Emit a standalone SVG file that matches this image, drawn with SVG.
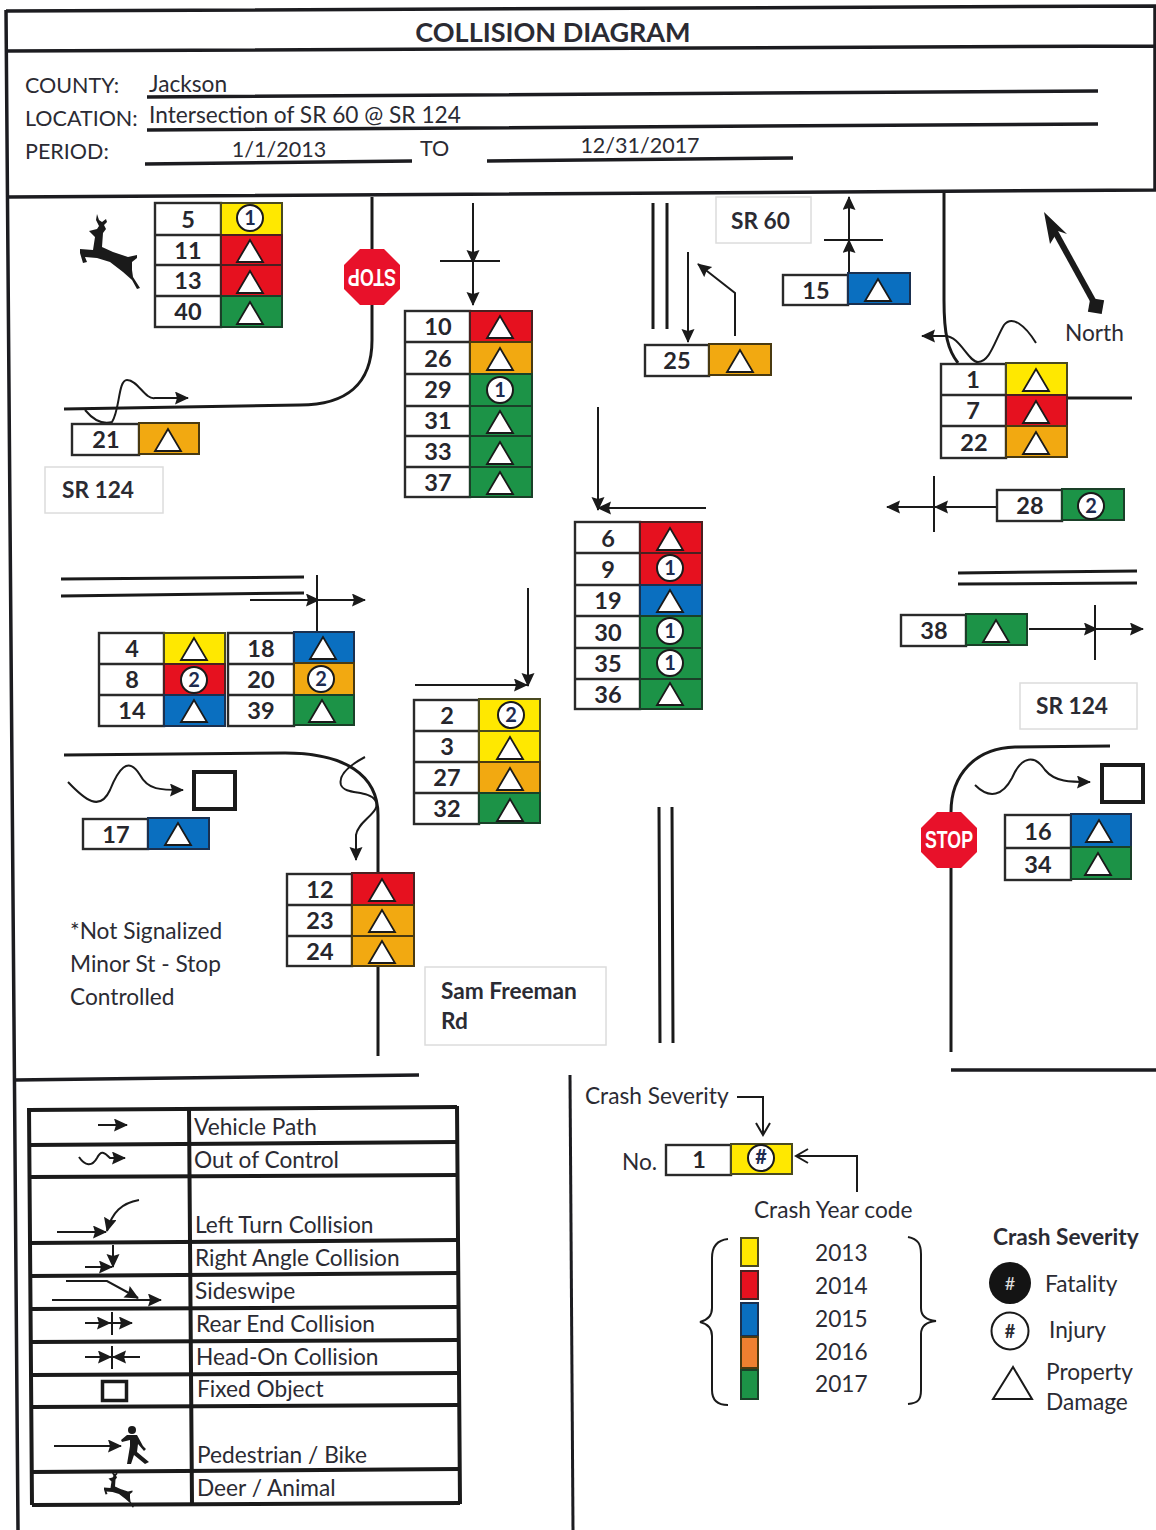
<svg xmlns="http://www.w3.org/2000/svg" width="1156" height="1530" viewBox="0 0 1156 1530">
<style>
text{font-family:"Lato","Open Sans","Liberation Sans",sans-serif;fill:#2b2b33}
.t{font-size:22.700px}
.h{font-size:21.500px}
.l{font-size:22.700px}
.num{font-size:23.500px;font-weight:700;text-anchor:middle;fill:#26262c}
.b{font-weight:700}
.d{font-size:20px;text-anchor:middle;fill:#1d2b4f;font-weight:700}
.n{fill:#fff;stroke:#2a2a2a;stroke-width:2.400}
.Y{fill:#ffe800;stroke:#4a4a20;stroke-width:2}
.R{fill:#e6111f;stroke:#4a2020;stroke-width:2}
.B{fill:#0a6fc0;stroke:#1a3050;stroke-width:2}
.O{fill:#f2a911;stroke:#4a3a10;stroke-width:2}
.A{fill:#ee8030;stroke:#4a3a10;stroke-width:2}
.G{fill:#1c9347;stroke:#1a4028;stroke-width:2}
.tri{fill:#fff;stroke:#1a1a1a;stroke-width:1.800}
.cir{fill:#fff;stroke:#1a1a1a;stroke-width:2}
.ln{fill:none;stroke:#1a1a1a;stroke-width:2}
.rd{fill:none;stroke:#1a1a1a;stroke-width:3}
.fr{fill:none;stroke:#1c1c20;stroke-width:3.500}
.ar{marker-end:url(#h)}
.am{marker-mid:url(#h);marker-end:url(#h)}
.box{fill:#fff;stroke:#dcdcdc;stroke-width:1.500}
.lg{fill:none;stroke:#1a1a1a;stroke-width:4}
.fx{fill:#fff;stroke:#1a1a1a;stroke-width:4}
.stop{fill:#e8112a}
.st{font-size:23px;font-weight:700;text-anchor:middle;fill:#fff;font-family:"Liberation Sans",sans-serif}
</style>
<defs>
<marker id="h" markerUnits="userSpaceOnUse" markerWidth="16" markerHeight="14" refX="13" refY="6.500" orient="auto"><path d="M0,0L14,6.500L0,13L2,6.500Z" fill="#1a1a1a"/></marker>
<marker id="o" markerUnits="userSpaceOnUse" markerWidth="16" markerHeight="20" refX="14" refY="9" orient="auto"><path d="M2,2L14,9L2,16" fill="none" stroke="#1a1a1a" stroke-width="2"/></marker>
<path id="tr" class="tri" d="M0,-11L-13,11H13Z"/>
<path id="deer" fill="#1a1a1a" d="M97,214L99,220L102,222L106,219L107,222L104,225L106,229L103,233L102,247L113,252L128,257L137,255L137,258L132,262L132,270L133,277L140,288L137,289L132,280L123,272L110,262L97,258L85,257L87,262L83,263L80,253L80,249L93,250L95,237L89,231L97,229L99,226L96,220Z"/>
<path id="stop" class="stop" d="M-12,-28H12L28,-12V12L12,28H-12L-28,12V-12Z"/>
</defs>
<rect width="1156" height="1530" fill="#fff"/>

<g id="frame">
<path class="fr" d="M6,11L1156,6M6,10L18,1530M6,51L1156,46M8,197L1156,190M1155,6V190"/>
<path class="fr" d="M15,1080L419,1075M951,1070H1156"/>
<path class="fr" style="stroke-width:3" d="M570,1075L573,1530"/>
<path class="fr" d="M147,97L1098,91M147,130L1098,124M145,164L412,161M487,161L793,158"/>
</g>
<g id="header">
<text x="553" y="42" text-anchor="middle" font-size="27" class="b">COLLISION DIAGRAM</text>
<text class="h" x="25" y="93">COUNTY:</text>
<text class="t" x="149" y="92">Jackson</text>
<text class="h" x="25" y="126">LOCATION:</text>
<text class="t" x="149" y="123">Intersection of SR 60 @ SR 124</text>
<text class="h" x="25" y="159">PERIOD:</text>
<text class="h" x="279" y="157" text-anchor="middle">1/1/2013</text>
<text class="h" x="420" y="156">TO</text>
<text class="h" x="640" y="153" text-anchor="middle">12/31/2017</text>
</g>

<g id="roads">
<path class="rd" d="M372,197V340C372,385 345,405 300,405L64,409"/>
<path class="rd" d="M944,193V300C944,335 948,350 958,363"/>
<path class="rd" d="M1068,398H1132"/>
<path class="rd" d="M653,203V329M667,203V329"/>
<path class="rd" d="M958,573L1137,571M958,584L1137,583"/>
<path class="rd" d="M61,579L304,577M61,596L304,593"/>
<path class="rd" d="M64,755L285,753C345,753 378,775 378,815V1056"/>
<path class="rd" d="M1110,746L1015,747C975,748 951,775 951,812V1052"/>
<path class="rd" d="M659,807L660,1043M672,807L673,1043"/>
</g>

<g id="connectors">
<path class="ln am" d="M473,203V263V305"/><path class="ln" d="M440,261H500"/>
<path class="ln ar" d="M688,252V342"/>
<path class="ln ar" d="M735,336V293L698,264"/>
<path class="ln am" d="M849,272V240V197"/><path class="ln" d="M824,240H883"/>
<path class="ln ar" d="M85,410C95,422 105,424 112,422C120,410 118,380 127,380C138,380 145,400 155,398H188"/>
<path class="ln ar" d="M1036,343C1025,325 1012,315 1004,325C995,340 990,362 978,362C968,362 960,336 945,336H922"/>
<path class="ln am" d="M996,507H935H887"/><path class="ln" d="M934,476V532"/>
<path class="ln ar" d="M598,407V510"/><path class="ln ar" d="M706,508H598"/>
<path class="ln am" d="M1029,629H1097H1143"/><path class="ln" d="M1095,605V660"/>
<path class="ln am" d="M250,600H319H365"/><path class="ln" d="M317,575V632"/>
<path class="ln ar" d="M528,588V686"/><path class="ln ar" d="M415,685H527"/>
<path class="ln ar" d="M365,757C350,765 338,775 341,785C345,795 368,790 375,800C383,812 358,820 356,835V860"/>
<path class="ln ar" d="M68,782C85,800 100,812 110,790C118,770 128,755 140,775C148,790 160,790 183,790"/>
<rect class="fx" x="194" y="772" width="41" height="37"/>
<path class="ln ar" d="M975,785C990,800 1003,795 1012,778C1022,755 1035,755 1045,770C1055,782 1070,782 1090,782"/>
<rect class="fx" x="1102" y="765" width="41" height="37"/>
<path class="ln" style="stroke-width:6" d="M1053,228L1096,306"/>
<path fill="#1a1a1a" d="M1044,212L1067,234L1058,231L1050,244Z"/>
<rect x="1089" y="299" width="14" height="14" fill="#1a1a1a" transform="rotate(10 1096 306)"/>
<path class="ln" d="M737,1097H763V1135" marker-end="url(#o)"/>
<path class="ln" d="M857,1192V1156H796" marker-end="url(#o)"/>
</g>

<g id="stop-signs">
<g id="stop-top" transform="translate(372,277)"><use href="#stop"/><text class="st" y="8" textLength="48" lengthAdjust="spacingAndGlyphs" transform="rotate(180)">STOP</text></g>
<g id="stop-bottom" transform="translate(949,840)"><use href="#stop"/><text class="st" y="8" textLength="48" lengthAdjust="spacingAndGlyphs">STOP</text></g>
</g>

<g id="deer-icon"><use href="#deer"/></g>

<g id="t-5"><rect class="n" x="155" y="203" width="66" height="124"/><path class="n" d="M155,235H221M155,265H221M155,296H221"/>
<rect class="Y" x="221" y="203" width="61" height="32"/><rect class="R" x="221" y="235" width="61" height="30"/><rect class="R" x="221" y="265" width="61" height="31"/><rect class="G" x="221" y="296" width="61" height="31"/>
<text class="num" x="188" y="228">5</text><text class="num" x="188" y="259">11</text><text class="num" x="188" y="289">13</text><text class="num" x="188" y="320">40</text>
<circle class="cir" cx="250" cy="218" r="13"/><text class="d" x="250" y="225">1</text><use href="#tr" x="250" y="251"/><use href="#tr" x="250" y="282"/><use href="#tr" x="250" y="313"/></g>

<g id="t-21"><rect class="n" x="72" y="424" width="67" height="31"/><rect class="O" x="139" y="423" width="60" height="31"/><text class="num" x="106" y="448">21</text><use href="#tr" x="168" y="440"/></g>

<g id="t-10"><rect class="n" x="405" y="311" width="65" height="186"/><path class="n" d="M405,342H470M405,374H470M405,406H470M405,436H470M405,467H470"/>
<rect class="R" x="470" y="311" width="62" height="31"/><rect class="O" x="470" y="342" width="62" height="32"/><rect class="G" x="470" y="374" width="62" height="32"/><rect class="G" x="470" y="406" width="62" height="30"/><rect class="G" x="470" y="436" width="62" height="31"/><rect class="G" x="470" y="467" width="62" height="30"/>
<text class="num" x="438" y="335">10</text><text class="num" x="438" y="367">26</text><text class="num" x="438" y="398">29</text><text class="num" x="438" y="429">31</text><text class="num" x="438" y="460">33</text><text class="num" x="438" y="491">37</text>
<use href="#tr" x="500" y="327"/><use href="#tr" x="500" y="359"/><circle class="cir" cx="500" cy="390" r="13"/><text class="d" x="500" y="397">1</text><use href="#tr" x="500" y="422"/><use href="#tr" x="500" y="453"/><use href="#tr" x="500" y="483"/></g>

<g id="t-25"><rect class="n" x="645" y="345" width="64" height="31"/><rect class="O" x="709" y="344" width="62" height="31"/><text class="num" x="677" y="369">25</text><use href="#tr" x="740" y="361"/></g>
<g id="t-15"><rect class="n" x="783" y="275" width="65" height="30"/><rect class="B" x="848" y="273" width="62" height="31"/><text class="num" x="816" y="299">15</text><use href="#tr" x="878" y="290"/></g>

<g id="t-1"><rect class="n" x="941" y="364" width="65" height="94"/><path class="n" d="M941,395H1006M941,426H1006"/>
<rect class="Y" x="1006" y="363" width="61" height="32"/><rect class="R" x="1006" y="395" width="61" height="31"/><rect class="O" x="1006" y="426" width="61" height="31"/>
<text class="num" x="973" y="388">1</text><text class="num" x="973" y="419">7</text><text class="num" x="974" y="451">22</text>
<use href="#tr" x="1036" y="380"/><use href="#tr" x="1036" y="412"/><use href="#tr" x="1036" y="443"/></g>

<g id="t-28"><rect class="n" x="997" y="490" width="65" height="31"/><rect class="G" x="1062" y="489" width="62" height="31"/><text class="num" x="1030" y="514">28</text><circle class="cir" cx="1091" cy="506" r="13"/><text class="d" x="1091" y="513">2</text></g>

<g id="t-6"><rect class="n" x="575" y="522" width="65" height="187"/><path class="n" d="M575,553H640M575,585H640M575,616H640M575,648H640M575,679H640"/>
<rect class="R" x="640" y="522" width="62" height="31"/><rect class="R" x="640" y="553" width="62" height="32"/><rect class="B" x="640" y="585" width="62" height="31"/><rect class="G" x="640" y="616" width="62" height="32"/><rect class="G" x="640" y="648" width="62" height="31"/><rect class="G" x="640" y="679" width="62" height="30"/>
<text class="num" x="608" y="547">6</text><text class="num" x="608" y="578">9</text><text class="num" x="608" y="609">19</text><text class="num" x="608" y="641">30</text><text class="num" x="608" y="672">35</text><text class="num" x="608" y="703">36</text>
<use href="#tr" x="670" y="539"/><circle class="cir" cx="670" cy="568" r="13"/><text class="d" x="670" y="575">1</text><use href="#tr" x="670" y="601"/><circle class="cir" cx="670" cy="631" r="13"/><text class="d" x="670" y="638">1</text><circle class="cir" cx="670" cy="663" r="13"/><text class="d" x="670" y="670">1</text><use href="#tr" x="670" y="694"/></g>

<g id="t-38"><rect class="n" x="901" y="615" width="65" height="31"/><rect class="G" x="966" y="614" width="61" height="31"/><text class="num" x="934" y="639">38</text><use href="#tr" x="996" y="631"/></g>

<g id="t-4"><rect class="n" x="99" y="633" width="65" height="93"/><path class="n" d="M99,664H164M99,695H164"/>
<rect class="Y" x="164" y="633" width="61" height="31"/><rect class="R" x="164" y="664" width="61" height="31"/><rect class="B" x="164" y="695" width="61" height="31"/>
<text class="num" x="132" y="657">4</text><text class="num" x="132" y="688">8</text><text class="num" x="132" y="719">14</text>
<use href="#tr" x="194" y="649"/><circle class="cir" cx="194" cy="680" r="13"/><text class="d" x="194" y="687">2</text><use href="#tr" x="194" y="711"/></g>

<g id="t-18"><rect class="n" x="228" y="633" width="66" height="93"/><path class="n" d="M228,664H294M228,695H294"/>
<rect class="B" x="294" y="632" width="60" height="31"/><rect class="O" x="294" y="663" width="60" height="32"/><rect class="G" x="294" y="695" width="60" height="30"/>
<text class="num" x="261" y="657">18</text><text class="num" x="261" y="688">20</text><text class="num" x="261" y="719">39</text>
<use href="#tr" x="323" y="648"/><circle class="cir" cx="321" cy="679" r="13"/><text class="d" x="321" y="686">2</text><use href="#tr" x="322" y="711"/></g>

<g id="t-2"><rect class="n" x="414" y="700" width="65" height="124"/><path class="n" d="M414,731H479M414,762H479M414,793H479"/>
<rect class="Y" x="479" y="699" width="61" height="32"/><rect class="Y" x="479" y="731" width="61" height="31"/><rect class="O" x="479" y="762" width="61" height="31"/><rect class="G" x="479" y="793" width="61" height="30"/>
<text class="num" x="447" y="724">2</text><text class="num" x="447" y="755">3</text><text class="num" x="447" y="786">27</text><text class="num" x="447" y="817">32</text>
<circle class="cir" cx="511" cy="715" r="13"/><text class="d" x="511" y="722">2</text><use href="#tr" x="510" y="748"/><use href="#tr" x="510" y="779"/><use href="#tr" x="510" y="810"/></g>

<g id="t-17"><rect class="n" x="83" y="819" width="65" height="30"/><rect class="B" x="148" y="818" width="61" height="31"/><text class="num" x="116" y="843">17</text><use href="#tr" x="178" y="834"/></g>

<g id="t-12"><rect class="n" x="287" y="874" width="65" height="92"/><path class="n" d="M287,905H352M287,936H352"/>
<rect class="R" x="352" y="873" width="62" height="32"/><rect class="O" x="352" y="905" width="62" height="31"/><rect class="O" x="352" y="936" width="62" height="30"/>
<text class="num" x="320" y="898">12</text><text class="num" x="320" y="929">23</text><text class="num" x="320" y="960">24</text>
<use href="#tr" x="382" y="890"/><use href="#tr" x="382" y="921"/><use href="#tr" x="382" y="952"/></g>

<g id="t-16"><rect class="n" x="1005" y="815" width="66" height="65"/><path class="n" d="M1005,848H1071"/>
<rect class="B" x="1071" y="814" width="60" height="33"/><rect class="G" x="1071" y="847" width="60" height="32"/>
<text class="num" x="1038" y="840">16</text><text class="num" x="1038" y="873">34</text>
<use href="#tr" x="1099" y="831"/><use href="#tr" x="1098" y="864"/></g>

<g id="lbl-sr60"><rect class="box" x="716" y="197" width="95" height="46"/><text class="t b" x="731" y="229">SR 60</text></g>
<g id="lbl-sr124a"><rect class="box" x="45" y="467" width="118" height="46"/><text class="t b" x="62" y="498">SR 124</text></g>
<g id="lbl-sr124b"><rect class="box" x="1020" y="683" width="117" height="46"/><text class="t b" x="1036" y="714">SR 124</text></g>
<g id="lbl-sam"><rect class="box" x="425" y="967" width="181" height="78"/><text class="t b" x="441" y="999">Sam Freeman</text><text class="t b" x="441" y="1029">Rd</text></g>
<text class="t" x="1065" y="341">North</text>
<text class="t" x="70" y="939">*Not Signalized</text>
<text class="t" x="70" y="972">Minor St - Stop</text>
<text class="t" x="70" y="1005">Controlled</text>

<g id="legend-table">
<path class="lg" d="M28,1110L457,1107M29,1145L457,1142M29,1177L458,1175M29,1243L458,1240M30,1276L458,1273M30,1309L458,1307M30,1342L458,1340M31,1375L459,1373M31,1407L459,1405M31,1472L459,1469M32,1505L460,1503"/>
<path class="lg" d="M29,1108L32,1505M189,1108L192,1504M457,1106L460,1504"/>
<text class="l" x="194" y="1135">Vehicle Path</text>
<text class="l" x="194" y="1168">Out of Control</text>
<text class="l" x="195" y="1233">Left Turn Collision</text>
<text class="l" x="195" y="1266">Right Angle Collision</text>
<text class="l" x="195" y="1299">Sideswipe</text>
<text class="l" x="196" y="1332">Rear End Collision</text>
<text class="l" x="196" y="1365">Head-On Collision</text>
<text class="l" x="197" y="1397">Fixed Object</text>
<text class="l" x="197" y="1463">Pedestrian / Bike</text>
<text class="l" x="197" y="1496">Deer / Animal</text>
<path class="ln ar" d="M98,1125H127"/>
<path class="ln ar" d="M79,1157C85,1166 92,1167 97,1158C101,1150 104,1152 110,1158H125"/>
<path class="ln ar" d="M57,1232H106"/>
<path class="ln ar" d="M139,1200C122,1203 112,1212 107,1231"/>
<path class="ln ar" d="M85,1267H112"/>
<path class="ln ar" d="M113,1245V1267"/>
<path class="ln ar" d="M66,1281H107L138,1298"/>
<path class="ln ar" d="M52,1300H161"/>
<path class="ln am" d="M85,1323H110H132"/><path class="ln" d="M112,1312V1335"/>
<path class="ln ar" d="M85,1357H111"/><path class="ln ar" d="M140,1357H113"/><path class="ln" d="M112,1346V1369"/>
<rect x="102.500" y="1381.500" width="24" height="19" fill="#fff" stroke="#1a1a1a" stroke-width="3.500"/>
<path class="ln ar" d="M54,1446H121"/>
<g id="ped"><circle cx="132" cy="1430" r="4" fill="#1a1a1a"/><path fill="#1a1a1a" d="M127,1435L137,1435L143,1446L146,1449L144,1451L138,1444L137,1452L149,1462L145,1464L134,1455L131,1464H127L130,1446L130,1440L122,1442L121,1440Z"/></g>
<use href="#deer" transform="translate(64,1363) scale(.5)"/>
</g>

<g id="key">
<text class="t" x="585" y="1104">Crash Severity</text>
<text class="t" x="622" y="1170">No.</text>
<rect class="n" x="666" y="1145" width="65" height="30"/>
<rect class="Y" x="731" y="1144" width="61" height="30"/>
<text class="num" x="699" y="1168">1</text>
<circle class="cir" cx="761" cy="1158" r="13"/><text class="d" x="761" y="1164" font-size="18">#</text>
<text class="t" x="754" y="1218">Crash Year code</text>
<rect class="Y" x="741" y="1238" width="17" height="28"/>
<rect class="R" x="741" y="1271" width="17" height="28"/>
<rect class="B" x="741" y="1303" width="17" height="33"/>
<rect class="A" x="741" y="1337" width="17" height="31"/>
<rect class="G" x="741" y="1370" width="17" height="29"/>
<text class="t" x="815" y="1261">2013</text>
<text class="t" x="815" y="1294">2014</text>
<text class="t" x="815" y="1327">2015</text>
<text class="t" x="815" y="1360">2016</text>
<text class="t" x="815" y="1392">2017</text>
<path class="ln" d="M728,1239C718,1240 712,1246 712,1258V1308C712,1316 708,1320 700,1322C708,1324 712,1328 712,1336V1390C712,1400 718,1405 728,1405"/>
<path class="ln" d="M908,1237C918,1239 921,1244 921,1254V1308C921,1316 926,1320 936,1321C926,1322 921,1326 921,1334V1390C921,1400 918,1403 908,1404"/>
<text class="t b" x="993" y="1245">Crash Severity</text>
<circle cx="1010" cy="1283" r="21" fill="#141414"/><text x="1010" y="1290" font-size="18" text-anchor="middle" style="fill:#e0e0e0">#</text>
<text class="t" x="1045" y="1292">Fatality</text>
<circle cx="1010" cy="1331" r="18.500" fill="#fff" stroke="#1a1a1a" stroke-width="2"/><text x="1010" y="1338" font-size="18" text-anchor="middle" font-weight="700">#</text>
<text class="t" x="1049" y="1338">Injury</text>
<path d="M1013,1367L993,1399H1032Z" fill="#fff" stroke="#1a1a1a" stroke-width="2"/>
<text class="t" x="1046" y="1380">Property</text>
<text class="t" x="1046" y="1410">Damage</text>
</g>
</svg>
